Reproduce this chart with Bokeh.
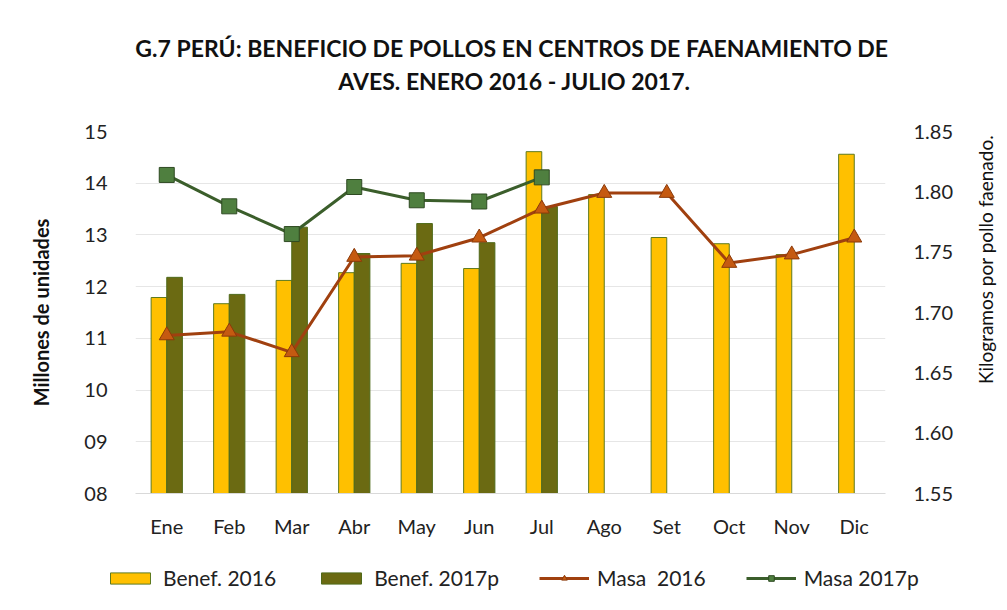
import math
from bokeh.plotting import figure
from bokeh.layouts import column, row
from bokeh.models import (Range1d, LinearAxis, FixedTicker, CustomJSTickFormatter,
                          NumeralTickFormatter, Legend, LegendItem, Label, ColumnDataSource)
from bokeh.transform import dodge
from bokeh.embed import file_html
from bokeh.resources import INLINE

meses = ["Ene", "Feb", "Mar", "Abr", "May", "Jun", "Jul", "Ago", "Set", "Oct", "Nov", "Dic"]
benef_2016 = [11.79, 11.67, 12.12, 12.27, 12.45, 12.35, 14.61, 13.78, 12.95, 12.83, 12.62, 14.56]
benef_2017p = [12.18, 11.85, 13.15, 12.64, 13.22, 12.85, 13.55]
masa_2016 = [1.681, 1.684, 1.667, 1.746, 1.747, 1.762, 1.786, 1.799, 1.799, 1.741, 1.748, 1.762]
masa_2017p = [1.814, 1.788, 1.765, 1.804, 1.793, 1.792, 1.812]
left_ticks = [8, 9, 10, 11, 12, 13, 14, 15]
right_ticks = [1.55, 1.60, 1.65, 1.70, 1.75, 1.80, 1.85]
title_lines = ["G.7  PERÚ: BENEFICIO DE POLLOS EN CENTROS DE FAENAMIENTO DE",
               "AVES. ENERO 2016 - JULIO 2017."]
series_labels = ["Benef. 2016", "Benef. 2017p", "Masa  2016", "Masa 2017p"]

FONT = "Lato"
YELLOW, OLIVE = "#FFC000", "#6B6A12"
BROWN, ORANGE = "#A0400F", "#C55A11"
DKGREEN, GREEN = "#3B5E2B", "#4F7F3F"

W = 1005
TITLE_H = 100
FL, FW, FH = 135, 750, 362
TOP, BOTTOM, RIGHT = 31, 60, 80
LEG_H = 50


def bare(width, height):
    f = figure(width=width, height=height, x_range=Range1d(10, 11), y_range=Range1d(10, 11),
               min_border=0, output_backend="svg", toolbar_location=None,
               x_axis_location=None, y_axis_location=None, outline_line_color=None,
               background_fill_color="white", border_fill_color="white")
    f.xgrid.visible = False
    f.ygrid.visible = False
    return f


# ---------- title block ----------
tf = bare(W, TITLE_H)
for txt, yc in zip(title_lines, [47, 80]):
    tf.add_layout(Label(x=514, y=TITLE_H - yc, x_units="screen", y_units="screen", text=txt,
                        text_align="center", text_baseline="middle", text_font=FONT,
                        text_font_size="23px", text_font_style="bold", text_color="#111111"))

# ---------- main chart ----------
src16 = ColumnDataSource(dict(mes=meses, benef=benef_2016, masa=masa_2016))
src17 = ColumnDataSource(dict(mes=meses[:len(benef_2017p)], benef=benef_2017p, masa=masa_2017p))

p = figure(x_range=meses, y_range=Range1d(8, 15), frame_width=FW, frame_height=FH,
           min_border_left=FL, min_border_right=RIGHT, min_border_top=TOP, min_border_bottom=BOTTOM,
           output_backend="svg", toolbar_location=None, background_fill_color="white",
           border_fill_color="white", outline_line_color=None)
p.title.visible = False
p.extra_y_ranges = {"kg": Range1d(1.55, 1.85)}

p.vbar(x=dodge("mes", -0.125, range=p.x_range), top="benef", bottom=8, width=0.25,
       source=src16, fill_color=YELLOW, line_color="#5E7A1E", line_width=1)
p.vbar(x=dodge("mes", 0.125, range=p.x_range), top="benef", bottom=8, width=0.25,
       source=src17, fill_color=OLIVE, line_color="#4F6A1A", line_width=1)
p.line(x="mes", y="masa", source=src16, y_range_name="kg", line_color=BROWN, line_width=3)
p.scatter(x="mes", y="masa", source=src16, y_range_name="kg", marker="triangle", size=15,
          fill_color=ORANGE, line_color="#8B3A0A", line_width=1)
p.line(x="mes", y="masa", source=src17, y_range_name="kg", line_color=DKGREEN, line_width=3)
p.scatter(x="mes", y="masa", source=src17, y_range_name="kg", marker="square", size=15,
          fill_color=GREEN, line_color="#2E4A22", line_width=1)

ya = p.yaxis[0]
ya.ticker = FixedTicker(ticks=left_ticks)
ya.formatter = CustomJSTickFormatter(code="return tick < 10 ? '0' + tick.toFixed(0) : tick.toFixed(0);")
ya.axis_label = "Millones de unidades"
ya.axis_label_text_font = FONT
ya.axis_label_text_font_size = "20px"
ya.axis_label_text_font_style = "bold"
ya.axis_label_text_color = "#111111"
ya.axis_label_standoff = 28
ya.major_label_text_font = FONT
ya.major_label_text_font_size = "20px"
ya.major_label_text_color = "#222222"
ya.major_label_standoff = 22
ya.axis_line_color = None
ya.major_tick_line_color = None
ya.minor_tick_line_color = None

ra = LinearAxis(y_range_name="kg", ticker=FixedTicker(ticks=right_ticks),
                formatter=NumeralTickFormatter(format="0.00"))
ra.major_label_text_font = FONT
ra.major_label_text_font_size = "20px"
ra.major_label_text_color = "#222222"
ra.major_label_standoff = 22
ra.axis_line_color = None
ra.major_tick_line_color = None
ra.minor_tick_line_color = None
p.add_layout(ra, "right")

xa = p.xaxis[0]
xa.major_label_text_font = FONT
xa.major_label_text_font_size = "20px"
xa.major_label_text_color = "#222222"
xa.major_label_standoff = 14
xa.axis_line_color = "#D9D9D9"
xa.axis_line_width = 1
xa.major_tick_line_color = None
xa.minor_tick_line_color = None

p.xgrid.grid_line_color = None
p.ygrid.grid_line_color = "#E6E6E6"
p.ygrid.ticker = FixedTicker(ticks=left_ticks)

# ---------- right axis title (reads bottom to top) ----------
P_H = TOP + FH + BOTTOM
LBL_W = W - (FL + FW + RIGHT)
rf = bare(LBL_W, P_H)
rf.add_layout(Label(x=LBL_W / 2, y=P_H - (319 - TITLE_H), x_units="screen", y_units="screen",
                    text="Kilogramos por pollo faenado.", angle=math.pi / 2,
                    text_align="center", text_baseline="middle", text_font=FONT,
                    text_font_size="19px", text_color="#111111"))

# ---------- legend block (legend-only renderers sit outside the visible range) ----------
lf = bare(W, LEG_H)
legend_src = ColumnDataSource(dict(x=[0], y=[0]))
g1 = lf.vbar(x="x", top="y", width=0.1, source=legend_src, fill_color=YELLOW, line_color="#5E7A1E")
g2 = lf.vbar(x="x", top="y", width=0.1, source=legend_src, fill_color=OLIVE, line_color="#4F6A1A")
g3l = lf.line(x="x", y="y", source=legend_src, line_color=BROWN, line_width=3)
g3m = lf.scatter(x="x", y="y", source=legend_src, marker="triangle", size=12,
                 fill_color=ORANGE, line_color="#8B3A0A")
g4l = lf.line(x="x", y="y", source=legend_src, line_color=DKGREEN, line_width=3)
g4m = lf.scatter(x="x", y="y", source=legend_src, marker="square", size=11,
                 fill_color=GREEN, line_color="#2E4A22")
legend = Legend(items=[
    LegendItem(label=series_labels[0], renderers=[g1]),
    LegendItem(label=series_labels[1], renderers=[g2]),
    LegendItem(label=series_labels[2], renderers=[g3l, g3m]),
    LegendItem(label=series_labels[3], renderers=[g4l, g4m]),
], orientation="horizontal", location=(105, 13))
legend.label_text_font = FONT
legend.label_text_font_size = "21px"
legend.label_text_color = "#222222"
legend.glyph_width = 50
legend.glyph_height = 14
legend.label_standoff = 8
legend.spacing = 40
legend.border_line_color = None
legend.background_fill_alpha = 0
legend.margin = 0
legend.padding = 0
lf.add_layout(legend, "center")

layout = column(tf, row(p, rf, spacing=0), lf, spacing=0)
open("out.html", "w").write(file_html(layout, INLINE))
